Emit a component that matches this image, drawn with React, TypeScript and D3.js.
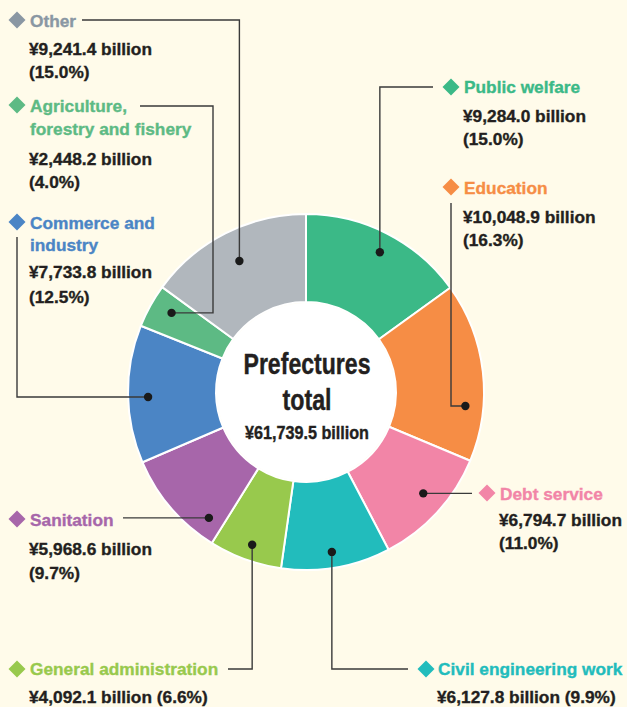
import React from "react";
import * as d3 from "d3";

// ---- data ----
const categories = [
  "Public welfare",
  "Education",
  "Debt service",
  "Civil engineering work",
  "General administration",
  "Sanitation",
  "Commerce and industry",
  "Agriculture, forestry and fishery",
  "Other",
];
const values = [9284.0, 10048.9, 6794.7, 6127.8, 4092.1, 5968.6, 7733.8, 2448.2, 9241.4];
const titleLines = [
  ["Public welfare"],
  ["Education"],
  ["Debt service"],
  ["Civil engineering work"],
  ["General administration"],
  ["Sanitation"],
  ["Commerce and", "industry"],
  ["Agriculture,", "forestry and fishery"],
  ["Other"],
];
const centerTitle = ["Prefectures", "total"];

// ---- style ----
const sliceColors = ["#3BB987", "#F68D45", "#F285A7", "#22BCBC", "#98C94D", "#A766AA", "#4B85C5", "#5DBA84", "#B1B7BD"];
const labelColors = ["#3BB987", "#F68D45", "#F285A7", "#22BCBC", "#98C94D", "#A766AA", "#4B85C5", "#5DBA84", "#8A97A3"];
const BG = "#FFFBEA";
const TEXT = "#231F20";
const FONT = "'Liberation Sans', Arial, sans-serif";
const FS = 17.3;

const W = 627, H = 707;
const CX = 306, CY = 392, R_OUT = 178, R_IN = 90;

type Layout = {
  d: [number, number];
  x: number;
  tb: number[];
  vb: number;
  pb: number | null;
  dotR: number;
  dotShift: number;
  leader: { x?: number; y?: number }[];
};
const layouts: Layout[] = [
  { d: [451, 87], x: 464, tb: [93], vb: 122, pb: 145, dotR: 158, dotShift: 0.8, leader: [{ y: 87 }, { x: 433 }] },
  { d: [451, 187], x: 464, tb: [194], vb: 223, pb: 246, dotR: 160, dotShift: 11.6, leader: [{ x: 451 }, { y: 203 }] },
  { d: [487, 493], x: 500, tb: [500], vb: 526, pb: 549, dotR: 155, dotShift: -1.7, leader: [{ x: 472 }] },
  { d: [426, 669], x: 438, tb: [675], vb: 703, pb: null, dotR: 162, dotShift: 0.6, leader: [{ y: 669 }, { x: 408 }] },
  { d: [17, 669], x: 30, tb: [675], vb: 703, pb: null, dotR: 162, dotShift: -0.6, leader: [{ y: 669 }, { x: 228 }] },
  { d: [17, 519], x: 30, tb: [526], vb: 555, pb: 579, dotR: 159, dotShift: -11.7, leader: [{ x: 123 }] },
  { d: [17, 222], x: 30, tb: [229, 251], vb: 278, pb: 303, dotR: 158, dotShift: -1.1, leader: [{ x: 17 }, { y: 237 }] },
  { d: [17, 105], x: 30, tb: [112, 135], vb: 165, pb: 188, dotR: 156, dotShift: 1.5, leader: [{ x: 213 }, { y: 106 }, { x: 140 }] },
  { d: [17, 20], x: 30, tb: [27], vb: 55, pb: 78, dotR: 147, dotShift: 0, leader: [{ y: 20 }, { x: 82 }] },
];

export default function App() {
  const total = d3.sum(values);
  const pie = d3.pie<number>().sort(null).value((v) => v);
  const arcs = pie(values);
  const arc = d3.arc<d3.PieArcDatum<number>>().innerRadius(R_IN).outerRadius(R_OUT);
  const fmtVal = d3.format(",.1f");
  const fmtPct = d3.format(".1f");
  const valueText = (v: number) => `¥${fmtVal(v)} billion`;
  const pctText = (v: number) => `(${fmtPct((v / total) * 100)}%)`;
  const dsz = 8.5;

  const txt = (color: string) => ({
    fontSize: FS,
    fontWeight: "bold" as const,
    fill: color,
    stroke: color,
    strokeWidth: 0.35,
  });

  return (
    <svg width={W} height={H} style={{ position: "fixed", left: 0, top: 0 }} fontFamily={FONT}>
      <rect width={W} height={H} fill={BG} />
      <g transform={`translate(${CX},${CY})`}>
        {arcs.map((a, i) => (
          <path key={i} d={arc(a) || ""} fill={sliceColors[i]} stroke="#fff" strokeWidth={2} strokeLinejoin="round" />
        ))}
        <circle r={R_IN - 1} fill="#fff" />
      </g>
      {arcs.map((a, i) => {
        const L = layouts[i];
        const ang = (a.startAngle + a.endAngle) / 2 + (L.dotShift * Math.PI) / 180;
        const px = CX + L.dotR * Math.sin(ang);
        const py = CY - L.dotR * Math.cos(ang);
        const pts: [number, number][] = [[px, py]];
        let cx = px, cy = py;
        L.leader.forEach((s) => {
          if (s.x !== undefined) cx = s.x;
          if (s.y !== undefined) cy = s.y;
          pts.push([cx, cy]);
        });
        const line = d3.line()(pts) || "";
        const [dx, dy] = L.d;
        return (
          <g key={i}>
            <path d={line} fill="none" stroke="#3a3a3a" strokeWidth={1.4} />
            <circle cx={px} cy={py} r={4.2} fill="#1a1a1a" />
            <path
              d={`M${dx},${dy - dsz}L${dx + dsz},${dy}L${dx},${dy + dsz}L${dx - dsz},${dy}Z`}
              fill={labelColors[i]}
            />
            {titleLines[i].map((t, j) => (
              <text key={j} x={L.x} y={L.tb[j]} {...txt(labelColors[i])}>
                {t}
              </text>
            ))}
            {L.pb === null ? (
              <text x={L.x - 1} y={L.vb} {...txt(TEXT)}>
                {valueText(values[i])} {pctText(values[i])}
              </text>
            ) : (
              <>
                <text x={L.x - 1} y={L.vb} {...txt(TEXT)}>
                  {valueText(values[i])}
                </text>
                <text x={L.x - 1} y={L.pb} {...txt(TEXT)}>
                  {pctText(values[i])}
                </text>
              </>
            )}
          </g>
        );
      })}
      <g fill={TEXT} stroke={TEXT} strokeWidth={0.4} fontWeight="bold" textAnchor="middle">
        <text x={CX + 1} y={374} fontSize={29} textLength={127} lengthAdjust="spacingAndGlyphs">
          {centerTitle[0]}
        </text>
        <text x={CX + 1} y={410} fontSize={29} textLength={49} lengthAdjust="spacingAndGlyphs">
          {centerTitle[1]}
        </text>
        <text x={CX + 1} y={439} fontSize={18.5} textLength={124} lengthAdjust="spacingAndGlyphs">
          {`¥${fmtVal(total)} billion`}
        </text>
      </g>
    </svg>
  );
}
